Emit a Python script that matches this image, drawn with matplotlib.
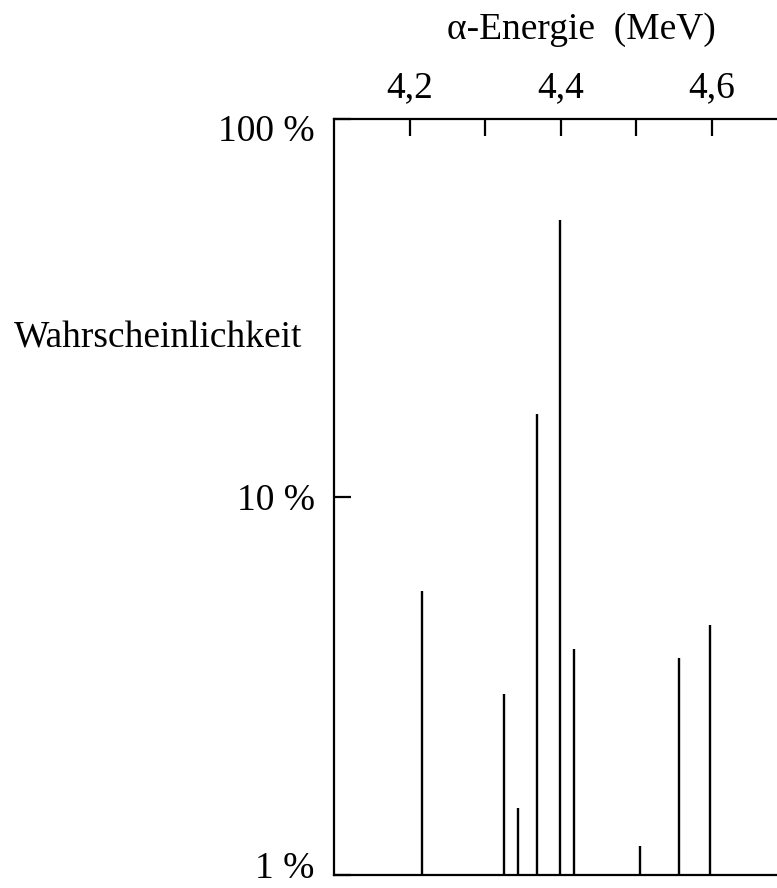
import numpy as np
import matplotlib
matplotlib.use("Agg")
import matplotlib.pyplot as plt
import matplotlib.transforms as mtransforms
from matplotlib.ticker import FixedLocator, FixedFormatter, NullLocator

plt.rcParams['font.family'] = ['Liberation Serif', 'DejaVu Serif']

# alpha lines: energy (MeV) and probability (%)
energies = [4.2165, 4.325, 4.344, 4.369, 4.399, 4.418, 4.505, 4.557, 4.598]
probabilities = [5.64, 3.01, 1.50, 16.6, 53.9, 3.96, 1.19, 3.75, 4.59]

x_ticks_labelled = [4.2, 4.4, 4.6]
x_labels = ["4,2", "4,4", "4,6"]
x_ticks_plain = [4.3, 4.5]
y_ticks = [1, 10, 100]
y_labels = ["1 %", "10 %", "100 %"]

fig = plt.figure(figsize=(7.77, 8.88), dpi=100)
ax = fig.add_axes([334 / 777, 13 / 888, 1 - 334 / 777, 756 / 888])

ax.vlines(energies, 1, probabilities, color="black", linewidth=1.7)

ax.set_yscale("log")
ax.set_ylim(1, 100)
ax.set_xlim(4.1, 4.1 + (777 - 334) / 755)

ax.xaxis.tick_top()
ax.xaxis.set_major_locator(FixedLocator(x_ticks_labelled))
ax.xaxis.set_major_formatter(FixedFormatter(x_labels))
ax.xaxis.set_minor_locator(FixedLocator(x_ticks_plain))
ax.yaxis.set_major_locator(FixedLocator(y_ticks))
ax.yaxis.set_major_formatter(FixedFormatter(y_labels))
ax.yaxis.set_minor_locator(NullLocator())

ax.tick_params(axis="x", which="both", direction="in", length=12, width=1.6,
               labelsize=27, pad=10, top=True, bottom=False)
ax.tick_params(axis="y", which="both", direction="in", length=12, width=1.6,
               labelsize=27, pad=14)

# small vertical nudges of the end labels, as in the original
fig.canvas.draw()
ylbls = ax.yaxis.get_majorticklabels()
ylbls[0].set_transform(ylbls[0].get_transform() + mtransforms.ScaledTranslation(0, 10 / 100, fig.dpi_scale_trans))
ylbls[2].set_transform(ylbls[2].get_transform() + mtransforms.ScaledTranslation(0, -9 / 100, fig.dpi_scale_trans))

for s in ["left", "top", "bottom"]:
    ax.spines[s].set_linewidth(1.6)
ax.spines["right"].set_visible(False)

fig.text(581 / 777, 1 - 30 / 888, "α-Energie  (MeV)", fontsize=27,
         ha="center", va="center")
fig.text(158 / 777, 1 - 338 / 888, "Wahrscheinlichkeit", fontsize=27,
         ha="center", va="center")

fig.savefig("out.png", dpi=100)
